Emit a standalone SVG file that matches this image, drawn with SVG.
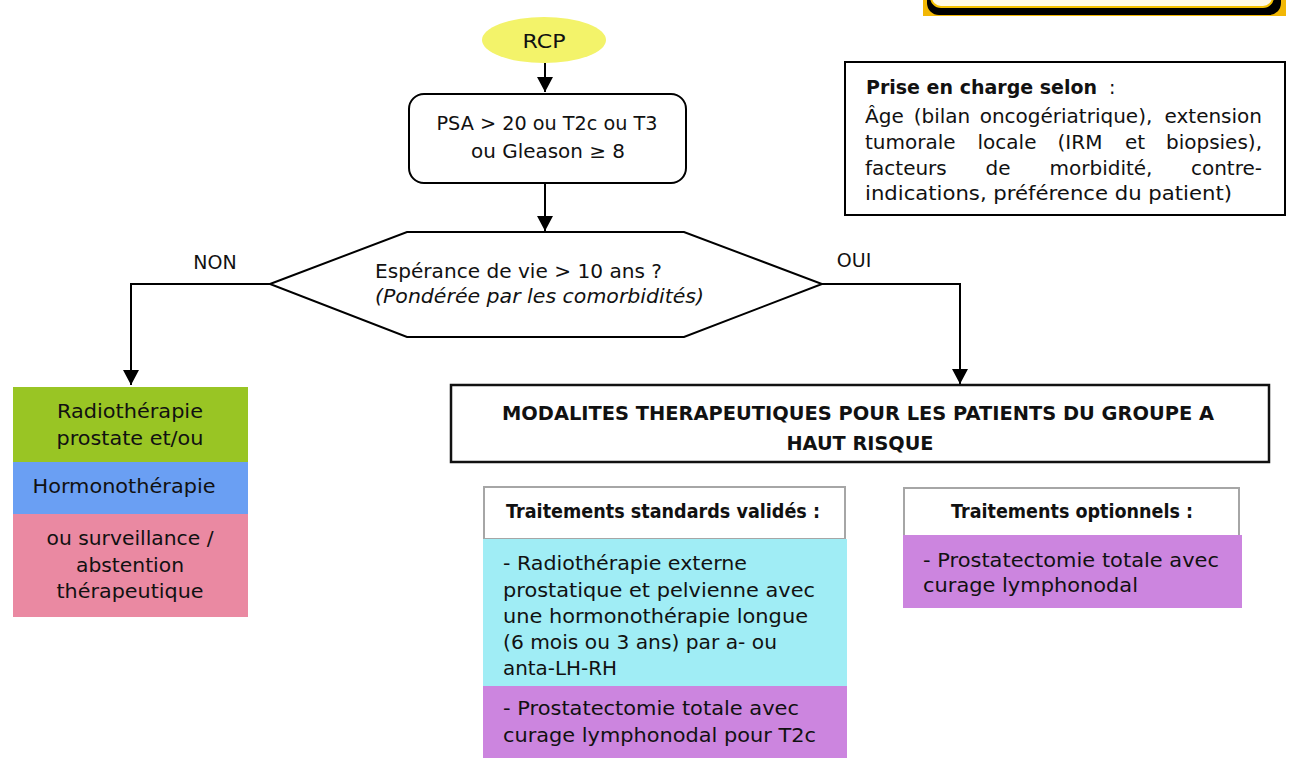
<svg xmlns="http://www.w3.org/2000/svg" width="1296" height="758" viewBox="0 0 1296 758">
<style>
text{font-family:"DejaVu Sans","Liberation Sans",sans-serif;fill:#111;font-size:19px}
.b{font-weight:bold}
.c{text-anchor:middle}
.e{text-anchor:end}
.it{font-style:italic}
.inf{font-size:20px}
.ln{fill:none;stroke:#000;stroke-width:2}
.box{fill:#fff;stroke:#000;stroke-width:2}
.hdr{fill:#fff;stroke:#A6A6A6;stroke-width:2}
</style>
<defs>
<marker id="arr" markerWidth="16" markerHeight="16" refX="15" refY="8" orient="auto" markerUnits="userSpaceOnUse"><path d="M0,0 L15,8 L0,16 Z" fill="#000"/></marker>
</defs>
<rect width="1296" height="758" fill="#fff"/>
<g id="banner">
<rect x="923" y="0" width="363" height="16" fill="#F2B705"/>
<rect x="927" y="-30" width="354" height="45" rx="12" fill="#000"/>
<rect x="931" y="-30" width="342" height="37" rx="10" fill="#FFF9E6" stroke="#F5C000" stroke-width="2"/>
</g>
<g id="connectors">
<path class="ln" d="M545,63 V92" marker-end="url(#arr)"/>
<path class="ln" d="M545,183 V231" marker-end="url(#arr)"/>
<path class="ln" d="M270,284 H131 V385" marker-end="url(#arr)"/>
<path class="ln" d="M822,284 H960 V384" marker-end="url(#arr)"/>
<text x="215" y="269" class="c" font-size="18">NON</text>
<text x="854" y="267" class="c" font-size="18">OUI</text>
</g>
<g id="rcp">
<ellipse cx="544" cy="40" rx="62" ry="23" fill="#F3F36A"/>
<text x="544" y="48" class="c" textLength="43" lengthAdjust="spacingAndGlyphs">RCP</text>
</g>
<g id="psa">
<rect class="box" x="409" y="94" width="277" height="89" rx="15"/>
<text x="547" y="130" class="c" textLength="221" lengthAdjust="spacingAndGlyphs">PSA &gt; 20 ou T2c ou T3</text>
<text x="548" y="158" class="c" textLength="154" lengthAdjust="spacingAndGlyphs">ou Gleason ≥ 8</text>
</g>
<g id="esperance">
<polygon class="box" points="270,284 407,232 684,232 822,284 684,337 407,337"/>
<text x="375" y="278" font-size="18" textLength="287" lengthAdjust="spacingAndGlyphs">Espérance de vie &gt; 10 ans ?</text>
<text x="375" y="303" font-size="18" class="it" textLength="329" lengthAdjust="spacingAndGlyphs">(Pondérée par les comorbidités)</text>
</g>
<g id="info">
<rect class="box" x="845" y="62" width="440" height="153"/>
<text x="866" y="94" font-size="17.5"><tspan class="b">Prise en charge selon</tspan><tspan dx="6"> :</tspan></text>
<text x="865" y="123" class="inf">Âge</text>
<text x="942" y="123" class="inf c">(bilan</text>
<text x="1066" y="123" class="inf c">oncogériatrique),</text>
<text x="1262" y="123" class="inf e">extension</text>
<text x="865" y="149" class="inf">tumorale</text>
<text x="1007" y="149" class="inf c">locale</text>
<text x="1080" y="149" class="inf c">(IRM</text>
<text x="1135" y="149" class="inf c">et</text>
<text x="1262" y="149" class="inf e">biopsies),</text>
<text x="865" y="175" class="inf">facteurs</text>
<text x="998" y="175" class="inf c">de</text>
<text x="1101" y="175" class="inf c">morbidité,</text>
<text x="1262" y="175" class="inf e">contre-</text>
<text x="865" y="200" class="inf" textLength="367" lengthAdjust="spacingAndGlyphs">indications, préférence du patient)</text>
</g>
<g id="non-branch">
<rect x="13" y="387" width="235" height="75" fill="#99C524"/>
<rect x="13" y="462" width="235" height="52" fill="#6A9FF3"/>
<rect x="13" y="514" width="235" height="103" fill="#EA89A2"/>
<text x="130" y="418" class="c" textLength="146" lengthAdjust="spacingAndGlyphs">Radiothérapie</text>
<text x="130" y="445" class="c" textLength="147" lengthAdjust="spacingAndGlyphs">prostate et/ou</text>
<text x="124" y="493" class="c" textLength="183" lengthAdjust="spacingAndGlyphs">Hormonothérapie</text>
<text x="130" y="545" class="c" textLength="167" lengthAdjust="spacingAndGlyphs">ou surveillance /</text>
<text x="130" y="572" class="c" textLength="108" lengthAdjust="spacingAndGlyphs">abstention</text>
<text x="130" y="598" class="c" textLength="147" lengthAdjust="spacingAndGlyphs">thérapeutique</text>
</g>
<g id="modalites">
<rect x="451" y="385" width="818" height="77" fill="#fff" stroke="#111" stroke-width="2.5"/>
<text x="858" y="420" class="c b" font-size="18" textLength="712" lengthAdjust="spacingAndGlyphs">MODALITES THERAPEUTIQUES POUR LES PATIENTS DU GROUPE A</text>
<text x="860" y="450" class="c b" font-size="18" textLength="147" lengthAdjust="spacingAndGlyphs">HAUT RISQUE</text>
</g>
<g id="standards">
<rect class="hdr" x="484" y="487" width="361" height="52"/>
<rect x="483" y="539" width="364" height="147" fill="#A0EDF5"/>
<rect x="483" y="686" width="364" height="72" fill="#CC85DF"/>
<text x="663" y="518" class="c b" font-size="16" textLength="314" lengthAdjust="spacingAndGlyphs">Traitements standards validés :</text>
<text x="503" y="570" textLength="244" lengthAdjust="spacingAndGlyphs">- Radiothérapie externe</text>
<text x="503" y="597" textLength="312" lengthAdjust="spacingAndGlyphs">prostatique et pelvienne avec</text>
<text x="503" y="623" textLength="305" lengthAdjust="spacingAndGlyphs">une hormonothérapie longue</text>
<text x="503" y="649" textLength="274" lengthAdjust="spacingAndGlyphs">(6 mois ou 3 ans) par a- ou</text>
<text x="503" y="675" textLength="114" lengthAdjust="spacingAndGlyphs">anta-LH-RH</text>
<text x="503" y="715" textLength="296" lengthAdjust="spacingAndGlyphs">- Prostatectomie totale avec</text>
<text x="503" y="742" textLength="313" lengthAdjust="spacingAndGlyphs">curage lymphonodal pour T2c</text>
</g>
<g id="optionnels">
<rect class="hdr" x="904" y="488" width="335" height="48"/>
<rect x="903" y="535" width="339" height="73" fill="#CC85DF"/>
<text x="1072" y="518" class="c b" font-size="16" textLength="242" lengthAdjust="spacingAndGlyphs">Traitements optionnels :</text>
<text x="923" y="567" textLength="296" lengthAdjust="spacingAndGlyphs">- Prostatectomie totale avec</text>
<text x="923" y="592" textLength="215" lengthAdjust="spacingAndGlyphs">curage lymphonodal</text>
</g>
</svg>
